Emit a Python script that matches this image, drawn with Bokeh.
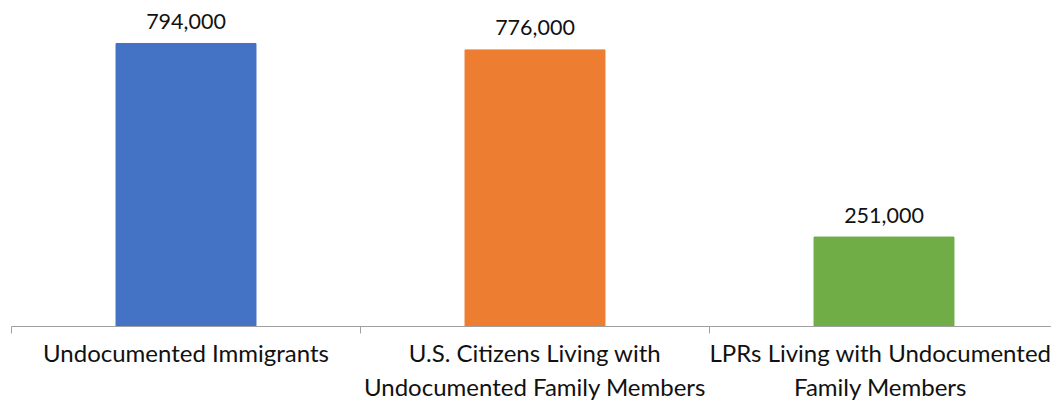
from bokeh.plotting import figure
from bokeh.models import Range1d, FixedTicker
from bokeh.core.properties import value
from bokeh.embed import file_html
from bokeh.resources import INLINE

categories = ["Undocumented Immigrants",
              "U.S. Citizens Living with\nUndocumented Family Members",
              "LPRs Living with Undocumented\nFamily Members"]
counts = [794000, 776000, 251000]
labels = ["794,000", "776,000", "251,000"]
colors = ["#4472C4", "#ED7D31", "#70AD47"]

xs = list(range(len(categories)))
FONT = "Lato"

p = figure(width=1051, height=404, output_backend="svg", toolbar_location=None,
           x_range=Range1d(-0.5, -0.5 + 1040 / 349), y_range=Range1d(0, 914600),
           min_border_left=11, min_border_right=0, min_border_top=0, min_border_bottom=0)

p.vbar(x=xs, top=counts, width=0.401, color=colors)
p.text(x=xs, y=counts, text=labels, text_align="center", text_baseline="alphabetic",
       y_offset=-22, text_font=value(FONT), text_font_size="21.5px", text_color="#111111")

p.yaxis.visible = False
p.xgrid.visible = False
p.ygrid.visible = False
p.outline_line_color = None

ax = p.xaxis[0]
ax.ticker = FixedTicker(ticks=xs, minor_ticks=[x - 0.5 for x in xs] + [len(xs) - 0.5])
ax.major_label_overrides = {i: c for i, c in enumerate(categories)}
ax.major_tick_out = 0
ax.major_tick_in = 0
ax.minor_tick_out = 7
ax.minor_tick_in = 0
ax.minor_tick_line_color = "#A0A0A0"
ax.axis_line_color = "#A0A0A0"
ax.major_label_text_font = FONT
ax.major_label_text_font_size = "24px"
ax.major_label_text_color = "#111111"
ax.major_label_standoff = 4

open("out.html", "w").write(file_html(p, INLINE))
